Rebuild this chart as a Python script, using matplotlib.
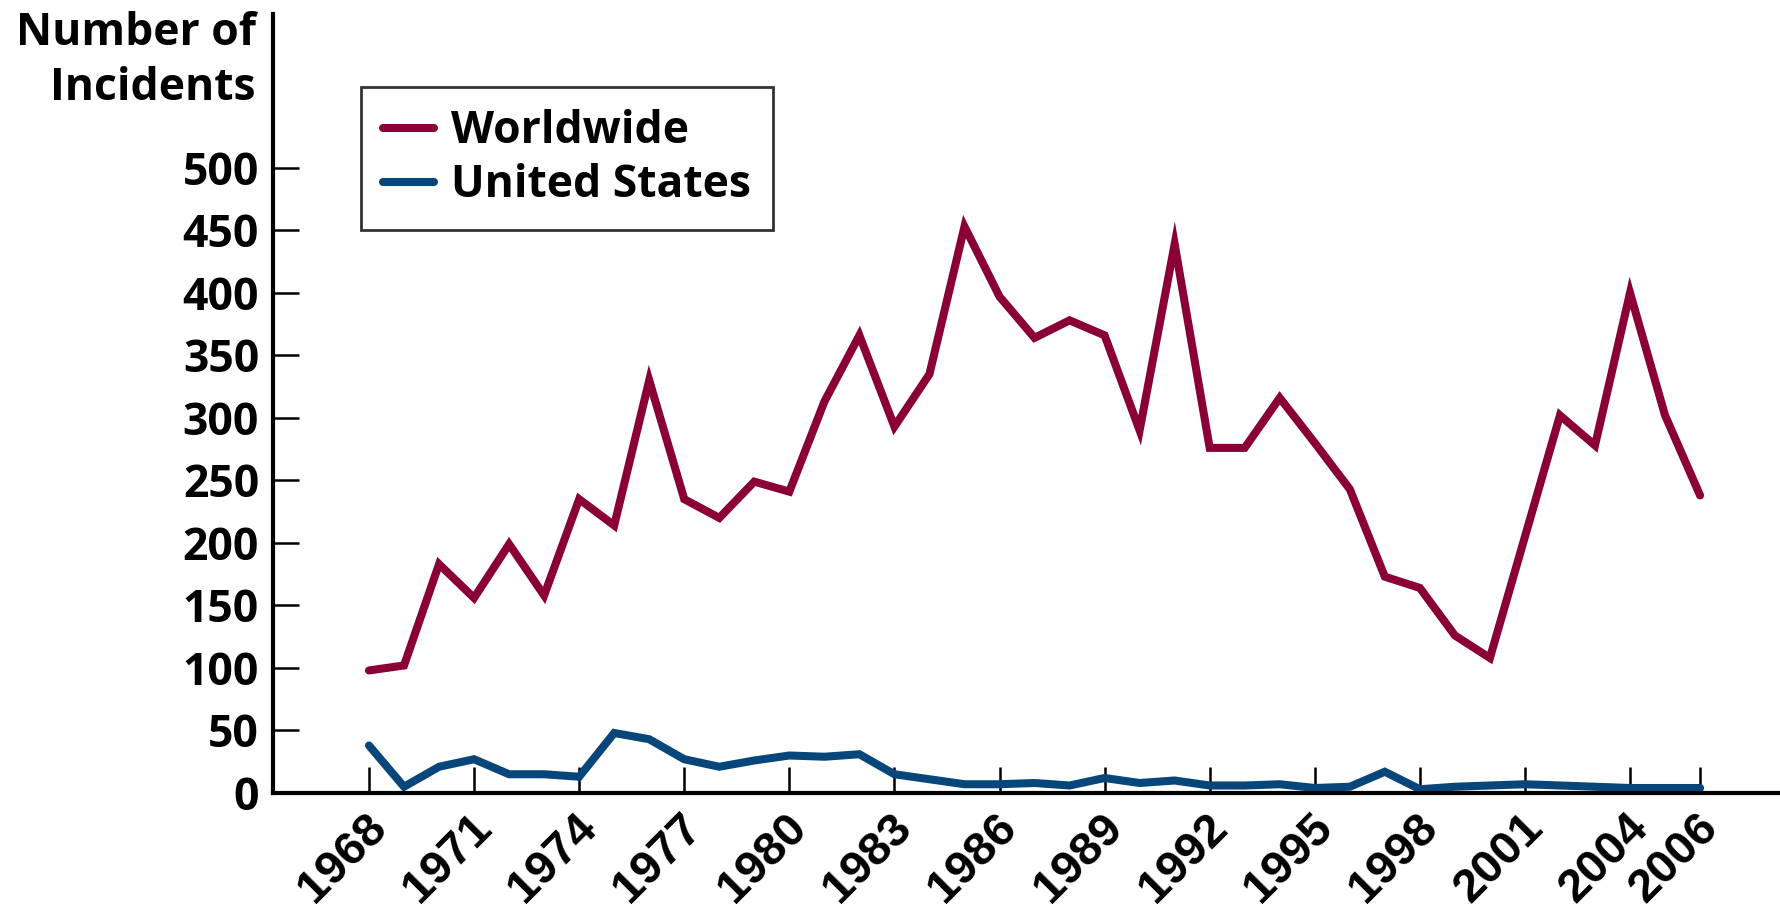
import matplotlib
matplotlib.use("Agg")
import matplotlib.pyplot as plt
import matplotlib.transforms as mtransforms

years = list(range(1968, 2007))
worldwide = [98, 102, 183, 156, 199, 158, 235, 214, 330, 235,
             220, 249, 241, 313, 366, 293, 335, 453, 397, 364,
             378, 366, 290, 439, 276, 276, 316, 280, 243, 173,
             164, 126, 108, 205, 302, 278, 400, 302, 238]
united_states = [38, 5, 21, 27, 15, 15, 13, 48, 43, 27,
                 21, 26, 30, 29, 31, 15, 11, 7, 7, 8,
                 6, 12, 8, 10, 6, 6, 7, 4, 5, 17,
                 3, 5, 6, 7, 6, 5, 4, 4, 4]
xticks = [1968, 1971, 1974, 1977, 1980, 1983, 1986, 1989, 1992,
          1995, 1998, 2001, 2004, 2006]
yticks = list(range(0, 501, 50))

WORLD_C = "#8a0036"
US_C = "#07467a"
MAIN_FONT = ["Open Sans", "DejaVu Sans"]
YEAR_FONT = ["Liberation Sans", "DejaVu Sans"]
FS = 32

plt.rcParams["font.family"] = MAIN_FONT
plt.rcParams["font.weight"] = "bold"

fig = plt.figure(figsize=(17.81, 9.13), dpi=100)
ax = fig.add_axes([273 / 1781, 1 - 793 / 913, 1 - 273 / 1781, (793 - 14) / 913])

ax.plot(years, worldwide, color=WORLD_C, lw=5.8, label="Worldwide",
        solid_joinstyle="miter", solid_capstyle="round")
ax.plot(years, united_states, color=US_C, lw=5.8, label="United States",
        solid_joinstyle="miter", solid_capstyle="round")

ax.set_xlim(1965.26, 2008.31)
ax.set_ylim(0, 623)
ax.set_yticks(yticks)
ax.set_xticks(xticks)
ax.set_xticklabels([str(y) for y in xticks], rotation=45, ha="right",
                   va="center", rotation_mode="anchor")

for s in ("top", "right"):
    ax.spines[s].set_visible(False)
for s in ("left", "bottom"):
    ax.spines[s].set_linewidth(3)
    ax.spines[s].set_color("black")

ax.tick_params(axis="both", direction="in", length=19, width=1.8,
               labelsize=FS, colors="black")
ax.tick_params(axis="x", pad=20)
ax.tick_params(axis="y", pad=10)
shift = mtransforms.ScaledTranslation(11 / 100, 0, fig.dpi_scale_trans)
for lab in ax.get_xticklabels():
    lab.set_fontweight("bold")
    lab.set_family(YEAR_FONT)
    lab.set_fontsize(34)
    lab.set_transform(lab.get_transform() + shift)
for lab in ax.get_yticklabels():
    lab.set_fontweight("bold")

fig.text(256 / 1781, 1 - 45 / 913, "Number of", ha="right", va="baseline",
         fontsize=FS, fontweight="bold")
fig.text(256 / 1781, 1 - 100 / 913, "Incidents", ha="right", va="baseline",
         fontsize=FS, fontweight="bold")

leg = ax.legend(loc="upper left", bbox_to_anchor=(361 / 1781, 1 - 87 / 913),
                bbox_transform=fig.transFigure, fontsize=FS, frameon=True,
                fancybox=False, edgecolor="black", handlelength=1.15,
                handletextpad=0.38, borderpad=0.5, labelspacing=0.2,
                borderaxespad=0)
leg.get_frame().set_linewidth(2)
for t in leg.get_texts():
    t.set_fontweight("bold")

fig.savefig("out.png", dpi=100)
